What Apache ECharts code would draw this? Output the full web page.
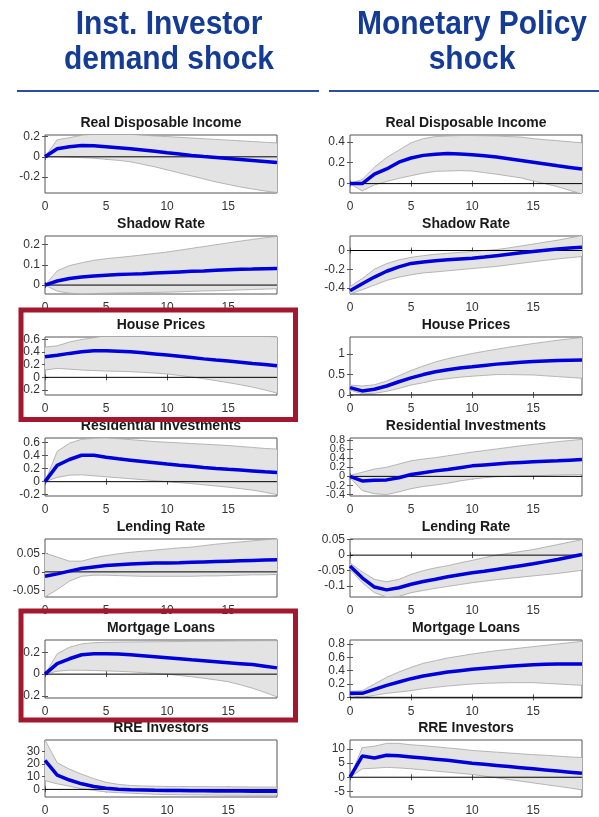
<!DOCTYPE html>
<html>
<head>
<meta charset="utf-8">
<script src="https://cdn.jsdelivr.net/npm/echarts@6.0.0/dist/echarts.min.js"></script>
<style>
  html, body { margin: 0; padding: 0; background: #fff; }
  #chart { width: 599px; height: 817px; }
</style>
</head>
<body>
<div id="chart"></div>
<script>
// horizon (quarters after the shock)
const horizon = [0, 1, 2, 3, 4, 5, 6, 7, 8, 9, 10, 11, 12, 13, 14, 15, 16, 17, 18, 19];

const shockTitles = [['Inst. Investor', 'demand shock'], ['Monetary Policy', 'shock']];
const panelTitles = ['Real Disposable Income', 'Shadow Rate', 'House Prices',
  'Residential Investments', 'Lending Rate', 'Mortgage Loans', 'RRE Investors'];
const xTicks = [0, 5, 10, 15];

// ---- Inst. Investor demand shock ----
const rdiInstMean = [0, 0.08, 0.1, 0.112, 0.11, 0.1, 0.09, 0.08, 0.068, 0.055, 0.04, 0.027, 0.014, 0.003, -0.007, -0.017, -0.027, -0.037, -0.047, -0.057];
const rdiInstUp = [0, 0.17, 0.19, 0.215, 0.225, 0.228, 0.228, 0.224, 0.215, 0.208, 0.201, 0.194, 0.187, 0.18, 0.173, 0.166, 0.159, 0.152, 0.145, 0.138];
const rdiInstLo = [0, 0, -0.004, -0.008, -0.014, -0.025, -0.035, -0.05, -0.075, -0.1, -0.13, -0.16, -0.19, -0.22, -0.25, -0.275, -0.3, -0.32, -0.34, -0.355];

const srInstMean = [0, 0.02, 0.032, 0.04, 0.045, 0.049, 0.052, 0.054, 0.056, 0.059, 0.062, 0.065, 0.068, 0.07, 0.073, 0.076, 0.078, 0.079, 0.081, 0.082];
const srInstUp = [0, 0.07, 0.096, 0.11, 0.122, 0.13, 0.136, 0.142, 0.149, 0.156, 0.163, 0.172, 0.181, 0.19, 0.199, 0.208, 0.217, 0.225, 0.233, 0.24];
const srInstLo = [0, -0.03, -0.04, -0.043, -0.042, -0.04, -0.039, -0.038, -0.037, -0.036, -0.035, -0.033, -0.031, -0.029, -0.028, -0.026, -0.024, -0.022, -0.02, -0.018];

const hpInstMean = [0.326, 0.35, 0.38, 0.405, 0.42, 0.42, 0.415, 0.405, 0.39, 0.372, 0.353, 0.333, 0.313, 0.293, 0.275, 0.258, 0.24, 0.22, 0.202, 0.184];
const hpInstUp = [0.48, 0.5, 0.56, 0.6, 0.63, 0.66, 0.68, 0.69, 0.7, 0.7, 0.7, 0.7, 0.7, 0.69, 0.69, 0.68, 0.67, 0.66, 0.65, 0.64];
const hpInstLo = [0.116, 0.142, 0.13, 0.116, 0.108, 0.1, 0.095, 0.09, 0.08, 0.068, 0.053, 0.03, 0.005, -0.022, -0.052, -0.084, -0.118, -0.155, -0.2, -0.25];

const riInstMean = [0, 0.25, 0.34, 0.405, 0.405, 0.375, 0.35, 0.33, 0.31, 0.29, 0.27, 0.252, 0.235, 0.218, 0.203, 0.19, 0.178, 0.165, 0.152, 0.14];
const riInstUp = [0, 0.465, 0.59, 0.65, 0.665, 0.67, 0.66, 0.645, 0.63, 0.615, 0.605, 0.595, 0.585, 0.575, 0.565, 0.555, 0.54, 0.525, 0.51, 0.5];
const riInstLo = [0, 0.065, 0.1, 0.105, 0.09, 0.075, 0.06, 0.045, 0.03, 0.015, 0, -0.015, -0.03, -0.048, -0.066, -0.085, -0.107, -0.13, -0.162, -0.2];

const lrInstMean = [-0.0117, -0.0054, 0.002, 0.009, 0.0135, 0.017, 0.0195, 0.0216, 0.023, 0.0237, 0.0243, 0.025, 0.026, 0.027, 0.028, 0.029, 0.03, 0.031, 0.032, 0.033];
const lrInstUp = [0.051, 0.04, 0.029, 0.029, 0.038, 0.044, 0.049, 0.053, 0.056, 0.059, 0.062, 0.065, 0.067, 0.071, 0.075, 0.078, 0.081, 0.084, 0.087, 0.089];
const lrInstLo = [-0.068, -0.048, -0.025, -0.012, -0.009, -0.009, -0.01, -0.011, -0.012, -0.012, -0.012, -0.012, -0.012, -0.011, -0.011, -0.01, -0.009, -0.008, -0.008, -0.007];

const mlInstMean = [0, 0.097, 0.142, 0.179, 0.188, 0.188, 0.185, 0.179, 0.17, 0.161, 0.152, 0.143, 0.133, 0.124, 0.115, 0.106, 0.097, 0.088, 0.073, 0.058];
const mlInstUp = [0, 0.188, 0.248, 0.279, 0.29, 0.294, 0.296, 0.297, 0.298, 0.299, 0.3, 0.301, 0.303, 0.304, 0.305, 0.306, 0.307, 0.308, 0.309, 0.309];
const mlInstLo = [0, 0.027, 0.036, 0.036, 0.034, 0.03, 0.026, 0.021, 0.014, 0.007, 0, -0.012, -0.024, -0.038, -0.053, -0.07, -0.098, -0.13, -0.168, -0.21];

const rreInstMean = [23, 11.3, 7.4, 4.4, 2.3, 1, 0.2, -0.3, -0.5, -0.7, -0.8, -0.9, -1.0, -1.1, -1.2, -1.3, -1.35, -1.4, -1.45, -1.5];
const rreInstUp = [39, 21, 16, 12, 8.5, 5.6, 4, 3.1, 2.7, 2.5, 2.3, 2.3, 2.2, 2.2, 2.1, 2.1, 2, 1.9, 1.85, 1.8];
const rreInstLo = [6.9, 4.4, 2.5, 0.5, -0.8, -2, -2.6, -3, -3.4, -3.8, -4.1, -4.2, -4.3, -4.4, -4.5, -4.6, -4.6, -4.6, -4.6, -4.6];

// ---- Monetary Policy shock ----
const rdiMpMean = [0, 0, 0.09, 0.14, 0.205, 0.245, 0.27, 0.28, 0.287, 0.283, 0.277, 0.266, 0.254, 0.238, 0.222, 0.205, 0.188, 0.17, 0.155, 0.14];
const rdiMpUp = [0, 0.04, 0.156, 0.25, 0.32, 0.39, 0.43, 0.45, 0.456, 0.46, 0.46, 0.458, 0.456, 0.45, 0.445, 0.43, 0.42, 0.41, 0.4, 0.39];
const rdiMpLo = [0, -0.07, -0.013, 0.02, 0.05, 0.075, 0.1, 0.117, 0.12, 0.124, 0.12, 0.105, 0.09, 0.072, 0.055, 0.026, -0.002, -0.03, -0.065, -0.1];

const srMpMean = [-0.43, -0.356, -0.284, -0.222, -0.175, -0.138, -0.122, -0.109, -0.1, -0.092, -0.084, -0.07, -0.055, -0.04, -0.025, -0.011, 0.002, 0.015, 0.026, 0.036];
const srMpUp = [-0.385, -0.3, -0.2, -0.14, -0.1, -0.073, -0.055, -0.04, -0.03, -0.02, -0.011, 0, 0.01, 0.028, 0.048, 0.069, 0.09, 0.11, 0.135, 0.16];
const srMpLo = [-0.465, -0.42, -0.37, -0.32, -0.285, -0.26, -0.24, -0.229, -0.217, -0.205, -0.193, -0.182, -0.17, -0.153, -0.137, -0.12, -0.105, -0.09, -0.077, -0.065];

const hpMpMean = [0.18, 0.1, 0.14, 0.22, 0.325, 0.42, 0.5, 0.57, 0.62, 0.66, 0.69, 0.725, 0.756, 0.78, 0.8, 0.82, 0.833, 0.845, 0.85, 0.854];
const hpMpUp = [0.244, 0.22, 0.25, 0.34, 0.47, 0.6, 0.71, 0.81, 0.89, 0.955, 1.016, 1.07, 1.12, 1.17, 1.215, 1.26, 1.3, 1.34, 1.375, 1.41];
const hpMpLo = [0.12, 0.03, 0.04, 0.09, 0.16, 0.244, 0.3, 0.366, 0.4, 0.435, 0.46, 0.48, 0.5, 0.5, 0.495, 0.49, 0.47, 0.45, 0.43, 0.41];

const riMpMean = [0, -0.1, -0.085, -0.077, -0.03, 0.04, 0.08, 0.12, 0.15, 0.19, 0.23, 0.25, 0.27, 0.29, 0.305, 0.32, 0.33, 0.34, 0.355, 0.37];
const riMpUp = [0.02, 0.09, 0.16, 0.2, 0.27, 0.34, 0.38, 0.41, 0.45, 0.49, 0.53, 0.565, 0.6, 0.635, 0.67, 0.7, 0.73, 0.76, 0.785, 0.81];
const riMpLo = [-0.03, -0.31, -0.38, -0.4, -0.34, -0.27, -0.22, -0.19, -0.15, -0.1, -0.06, -0.03, -0.01, 0, 0.01, 0.015, 0.02, 0.03, 0.035, 0.04];

const lrMpMean = [-0.035, -0.073, -0.103, -0.112, -0.105, -0.094, -0.085, -0.078, -0.07, -0.063, -0.057, -0.052, -0.046, -0.04, -0.034, -0.028, -0.021, -0.014, -0.006, 0.002];
const lrMpUp = [-0.025, -0.054, -0.078, -0.086, -0.078, -0.062, -0.05, -0.041, -0.034, -0.025, -0.017, -0.008, 0, 0.006, 0.012, 0.018, 0.026, 0.034, 0.042, 0.05];
const lrMpLo = [-0.046, -0.089, -0.121, -0.135, -0.133, -0.121, -0.114, -0.107, -0.101, -0.095, -0.089, -0.084, -0.079, -0.075, -0.071, -0.067, -0.063, -0.059, -0.054, -0.049];

const mlMpMean = [0.06, 0.06, 0.12, 0.18, 0.23, 0.28, 0.32, 0.35, 0.38, 0.4, 0.42, 0.435, 0.45, 0.465, 0.478, 0.49, 0.495, 0.5, 0.5, 0.5];
const mlMpUp = [0.09, 0.1, 0.2, 0.3, 0.38, 0.45, 0.51, 0.55, 0.59, 0.62, 0.65, 0.675, 0.7, 0.72, 0.74, 0.76, 0.78, 0.8, 0.82, 0.84];
const mlMpLo = [0.03, 0.0, 0.03, 0.06, 0.08, 0.1, 0.13, 0.15, 0.17, 0.185, 0.2, 0.21, 0.215, 0.22, 0.22, 0.22, 0.21, 0.2, 0.19, 0.18];

const rreMpMean = [0, 7.5, 6.8, 7.8, 7.6, 7.2, 6.8, 6.4, 6, 5.5, 5, 4.6, 4.2, 3.8, 3.4, 3, 2.6, 2.2, 1.8, 1.4];
const rreMpUp = [0, 10.5, 11, 12, 12, 11.5, 11.2, 10.8, 10.4, 10, 9.5, 9.2, 8.9, 8.6, 8.3, 8, 7.8, 7.5, 7.2, 7];
const rreMpLo = [0, 3, 3.2, 3.5, 3.3, 3, 2.6, 2.2, 1.8, 1.4, 1, 0.4, -0.2, -0.8, -1.4, -2, -2.6, -3.2, -3.8, -4.5];

// y ticks and axis limits per panel (rows top to bottom)
const instYTicks = [[-0.2, 0, 0.2], [0, 0.1, 0.2], [-0.2, 0, 0.2, 0.4, 0.6], [-0.2, 0, 0.2, 0.4, 0.6], [-0.05, 0, 0.05], [-0.2, 0, 0.2], [0, 10, 20, 30]];
const mpYTicks = [[0, 0.2, 0.4], [-0.4, -0.2, 0], [0, 0.5, 1], [-0.4, -0.2, 0, 0.2, 0.4, 0.6, 0.8], [-0.1, -0.05, 0, 0.05], [0, 0.2, 0.4, 0.6, 0.8], [-5, 0, 5, 10]];
const instYRange = [[-0.36, 0.217], [-0.044, 0.242], [-0.28, 0.64], [-0.22, 0.67], [-0.068, 0.089], [-0.22, 0.315], [-6, 39]];
const mpYRange = [[-0.09, 0.465], [-0.465, 0.155], [0, 1.42], [-0.43, 0.84], [-0.135, 0.052], [-0.01, 0.86], [-7, 13.2]];

const instPanels = [
  [rdiInstMean, rdiInstUp, rdiInstLo], [srInstMean, srInstUp, srInstLo], [hpInstMean, hpInstUp, hpInstLo],
  [riInstMean, riInstUp, riInstLo], [lrInstMean, lrInstUp, lrInstLo], [mlInstMean, mlInstUp, mlInstLo],
  [rreInstMean, rreInstUp, rreInstLo]
];
const mpPanels = [
  [rdiMpMean, rdiMpUp, rdiMpLo], [srMpMean, srMpUp, srMpLo], [hpMpMean, hpMpUp, hpMpLo],
  [riMpMean, riMpUp, riMpLo], [lrMpMean, lrMpUp, lrMpLo], [mlMpMean, mlMpUp, mlMpLo],
  [rreMpMean, rreMpUp, rreMpLo]
];

// layout
const colLeft = [45, 350];
const rowTop = [135, 236, 337, 438, 539, 640, 740];
const plotW = 232, plotH = 58;
const FONT = '"Liberation Sans", Arial, sans-serif';
const frameColor = '#555';
const labelColor = '#333';
const bandFill = '#e3e3e3';
const bandEdge = '#a6a6a6';
const irfBlue = '#0000dc';
const headBlue = '#143c96';
const boxRed = '#a3182f';

const chart = echarts.init(document.getElementById('chart'));

const grids = [], xAxes = [], yAxes = [], xMirror = [], yMirror = [], yExtra = [], series = [], graphics = [];

function yLabel(values, size) {
  return { customValues: values, margin: 5, fontSize: size, color: labelColor, fontFamily: FONT,
    hideOverlap: false, showMinLabel: true, showMaxLabel: true, formatter: v => String(v) };
}

function addPanel(k, col, row, panel, yTicks, yRange) {
  const [mean, up, lo] = panel;
  const dense = yTicks.length > 5;
  grids.push({
    left: colLeft[col], top: rowTop[row], width: plotW, height: plotH,
    show: true, borderColor: frameColor, borderWidth: 1, backgroundColor: '#fff'
  });
  const xBase = {
    type: 'value', gridIndex: k, min: horizon[0], max: horizon[horizon.length - 1],
    axisLine: { show: false }, splitLine: { show: false },
    axisTick: { customValues: xTicks, inside: true, length: 3, lineStyle: { color: frameColor } }
  };
  xAxes.push(Object.assign({}, xBase, {
    position: 'bottom',
    axisLabel: { customValues: xTicks, margin: 8, fontSize: 12, color: labelColor, fontFamily: FONT,
      hideOverlap: false, showMinLabel: true, showMaxLabel: true }
  }));
  xMirror.push(Object.assign({}, xBase, { position: 'top', axisLabel: { show: false } }));
  const yBase = {
    type: 'value', gridIndex: k, min: yRange[0], max: yRange[1],
    axisLine: { show: false }, splitLine: { show: false },
    axisTick: { customValues: yTicks, inside: true, length: 3, lineStyle: { color: frameColor } }
  };
  // crowded tick sets are labelled by two overlaid axes so no label gets dropped
  const evenTicks = dense ? yTicks.filter((v, i) => i % 2 === 0) : yTicks;
  yAxes.push(Object.assign({}, yBase, { position: 'left', offset: 0, axisLabel: yLabel(evenTicks, dense ? 11 : 12) }));
  yMirror.push(Object.assign({}, yBase, { position: 'right', axisLabel: { show: false } }));
  if (dense) {
    yExtra.push(Object.assign({}, yBase, {
      position: 'left', offset: 0, axisTick: { show: false },
      axisLabel: yLabel(yTicks.filter((v, i) => i % 2 === 1), 11)
    }));
  }

  const pts = arr => horizon.map((t, i) => [t, arr[i]]);
  // confidence band: one polygon through the axis scales, clipped to the plot box
  series.push({
    type: 'custom', xAxisIndex: k, yAxisIndex: k, silent: true, z: 1,
    data: horizon.map((t, i) => [t, lo[i], up[i]]),
    encode: { x: 0, y: [1, 2] },
    renderItem: (params, api) => {
      if (params.dataIndex !== 0) return null;
      const top = horizon.map((t, i) => api.coord([t, up[i]]));
      const bot = horizon.map((t, i) => api.coord([t, lo[i]])).reverse();
      const cs = params.coordSys;
      return {
        type: 'polygon', shape: { points: top.concat(bot) },
        style: { fill: bandFill, stroke: null },
        clipPath: { type: 'rect', shape: { x: cs.x, y: cs.y, width: cs.width, height: cs.height } }
      };
    }
  });
  [up, lo].forEach(edge => series.push({
    type: 'line', xAxisIndex: k, yAxisIndex: k, data: pts(edge), symbol: 'none', silent: true, z: 2,
    lineStyle: { color: bandEdge, width: 0.8 }
  }));
  // zero line
  series.push({
    type: 'line', xAxisIndex: k, yAxisIndex: k, symbol: 'none', silent: true, z: 3,
    data: [[horizon[0], 0], [horizon[horizon.length - 1], 0]],
    lineStyle: { color: '#000', width: 1 }
  });
  series.push({
    type: 'line', xAxisIndex: k, yAxisIndex: k, data: pts(mean), symbol: 'none', silent: true, z: 4,
    lineStyle: { color: irfBlue, width: 3.5 }
  });
  graphics.push({
    type: 'text', x: colLeft[col] + plotW / 2, y: rowTop[row] - 12, z: 50,
    style: { text: panelTitles[row], font: 'bold 14px ' + FONT, fill: '#1a1a1a',
      textAlign: 'center', textVerticalAlign: 'middle' }
  });
}

instPanels.forEach((p, r) => addPanel(r, 0, r, p, instYTicks[r], instYRange[r]));
mpPanels.forEach((p, r) => addPanel(7 + r, 1, r, p, mpYTicks[r], mpYRange[r]));

// mirrored (top/right) tick axes, then extra label axes
xMirror.forEach(a => xAxes.push(a));
yMirror.forEach(a => yAxes.push(a));
yExtra.forEach(a => yAxes.push(a));

// column headers
const headX = [169, 472];
shockTitles.forEach((lines, c) => {
  lines.forEach((txt, j) => {
    graphics.push({
      type: 'text', x: headX[c], y: 25 + j * 35, z: 50, scaleY: 1.12, scaleX: 1.0,
      style: { text: txt, font: 'bold 30px ' + FONT, fill: headBlue, textAlign: 'center', textVerticalAlign: 'middle' }
    });
  });
});
graphics.push({ type: 'line', z: 50, shape: { x1: 17, y1: 91, x2: 319, y2: 91 }, style: { stroke: '#2a4d9e', lineWidth: 2 } });
graphics.push({ type: 'line', z: 50, shape: { x1: 329, y1: 91, x2: 599, y2: 91 }, style: { stroke: '#2a4d9e', lineWidth: 2 } });

// highlight boxes
[[310, 419.5], [611, 720]].forEach(([y0, y1]) => {
  graphics.push({
    type: 'rect', z: 100, shape: { x: 21, y: y0, width: 274.5, height: y1 - y0 },
    style: { fill: 'none', stroke: boxRed, lineWidth: 5 }
  });
});

chart.setOption({
  animation: false,
  backgroundColor: '#fff',
  grid: grids,
  xAxis: xAxes,
  yAxis: yAxes,
  series: series,
  graphic: graphics
});
</script>
</body>
</html>
